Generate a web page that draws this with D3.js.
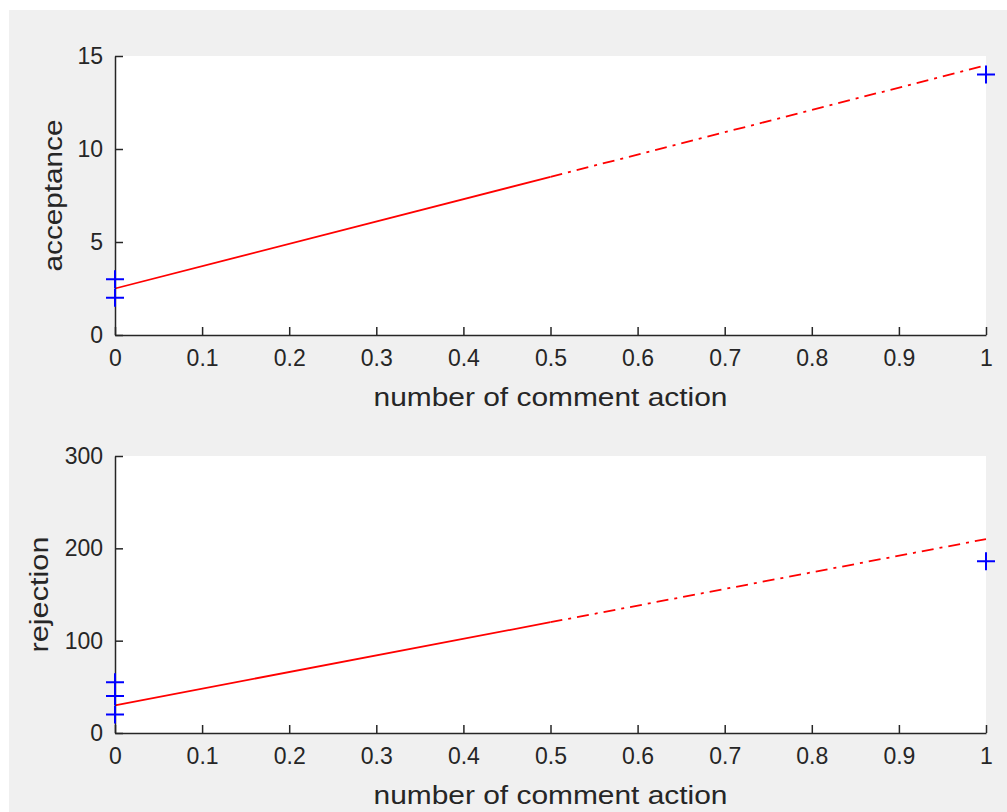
<!DOCTYPE html>
<html>
<head>
<meta charset="utf-8">
<script src="https://cdn.jsdelivr.net/npm/d3@7"></script>
<style>
  html, body { margin: 0; padding: 0; background: #ffffff; }
  svg { display: block; }
  text { font-family: "Liberation Sans", Arial, sans-serif; fill: #262626; }
</style>
</head>
<body>
<svg id="chart" width="1007" height="812"></svg>
<script>
// Observations: number of comment actions vs counts
const acceptX = [0, 0, 1];
const acceptY = [2, 3, 14];
const rejectX = [0, 0, 0, 1];
const rejectY = [20, 40, 55, 186];

// Fitted lines: [intercept, slope]
const acceptFit = [2.5, 12];
const rejectFit = [30, 180];

const xTicks = [0, 0.1, 0.2, 0.3, 0.4, 0.5, 0.6, 0.7, 0.8, 0.9, 1];
const acceptTicks = [0, 5, 10, 15];
const rejectTicks = [0, 100, 200, 300];

const xLabel = "number of comment action";

const svg = d3.select("#chart");
svg.append("rect").attr("x", 9).attr("y", 10).attr("width", 998).attr("height", 802).attr("fill", "#f0f0f0");

function panel(opts) {
  const { top, bottom, left, right, yMax, yTicks, xs, ys, fit, yLabel, yLabelX, yLabelLen } = opts;
  const x = d3.scaleLinear().domain([0, 1]).range([left, right]);
  const y = d3.scaleLinear().domain([0, yMax]).range([bottom, top]);
  const g = svg.append("g");

  g.append("rect").attr("x", left).attr("y", top)
    .attr("width", right - left).attr("height", bottom - top).attr("fill", "#ffffff");

  // Fit line: solid over the first half, dash-dot over the second
  const fy = v => fit[0] + fit[1] * v;
  g.append("line")
    .attr("x1", x(0)).attr("y1", y(fy(0))).attr("x2", x(0.5)).attr("y2", y(fy(0.5)))
    .attr("stroke", "#ff0000").attr("stroke-width", 1.8);
  g.append("line")
    .attr("x1", x(0.5)).attr("y1", y(fy(0.5))).attr("x2", x(1)).attr("y2", y(fy(1)))
    .attr("stroke", "#ff0000").attr("stroke-width", 1.8)
    .attr("stroke-dasharray", "12,6,3,6");

  // Axes with inward ticks
  const xAxis = d3.axisBottom(x).tickValues(xTicks).tickSizeInner(-8).tickSizeOuter(0)
    .tickPadding(15).tickFormat(d => d3.format("")(d));
  const yAxis = d3.axisLeft(y).tickValues(yTicks).tickSizeInner(-8).tickSizeOuter(0)
    .tickPadding(12);

  const gx = g.append("g").attr("transform", `translate(0,${bottom})`).call(xAxis);
  const gy = g.append("g").attr("transform", `translate(${left},0)`).call(yAxis);
  [gx, gy].forEach(a => {
    a.attr("font-size", null).attr("font-family", null);
    a.select(".domain").attr("stroke", "#262626").attr("stroke-width", 1.5);
    a.selectAll(".tick line").attr("stroke", "#262626").attr("stroke-width", 1.5);
    a.selectAll(".tick text").attr("font-size", 23).attr("fill", "#262626")
      .attr("font-family", "\"Liberation Sans\", Arial, sans-serif");
  });

  // Markers
  const s = 9;
  g.selectAll("path.pt").data(xs.map((v, i) => [v, ys[i]])).enter().append("path")
    .attr("class", "pt")
    .attr("d", d => `M${x(d[0]) - s},${y(d[1])}H${x(d[0]) + s}M${x(d[0])},${y(d[1]) - s}V${y(d[1]) + s}`)
    .attr("stroke", "#0000ff").attr("stroke-width", 2).attr("fill", "none");

  g.append("text").attr("x", (left + right) / 2 + 0).attr("y", bottom + 71)
    .attr("text-anchor", "middle").attr("font-size", 25)
    .attr("textLength", 354).attr("lengthAdjust", "spacingAndGlyphs").text(xLabel);
  g.append("text")
    .attr("transform", `translate(${yLabelX},${(top + bottom) / 2}) rotate(-90)`)
    .attr("text-anchor", "middle").attr("font-size", 25)
    .attr("textLength", yLabelLen).attr("lengthAdjust", "spacingAndGlyphs").text(yLabel);
}

panel({ top: 56, bottom: 335, left: 115, right: 986, yMax: 15, yTicks: acceptTicks,
  xs: acceptX, ys: acceptY, fit: acceptFit, yLabel: "acceptance", yLabelX: 62, yLabelLen: 152 });
panel({ top: 456, bottom: 733, left: 115, right: 986, yMax: 300, yTicks: rejectTicks,
  xs: rejectX, ys: rejectY, fit: rejectFit, yLabel: "rejection", yLabelX: 48, yLabelLen: 116 });
</script>
</body>
</html>
